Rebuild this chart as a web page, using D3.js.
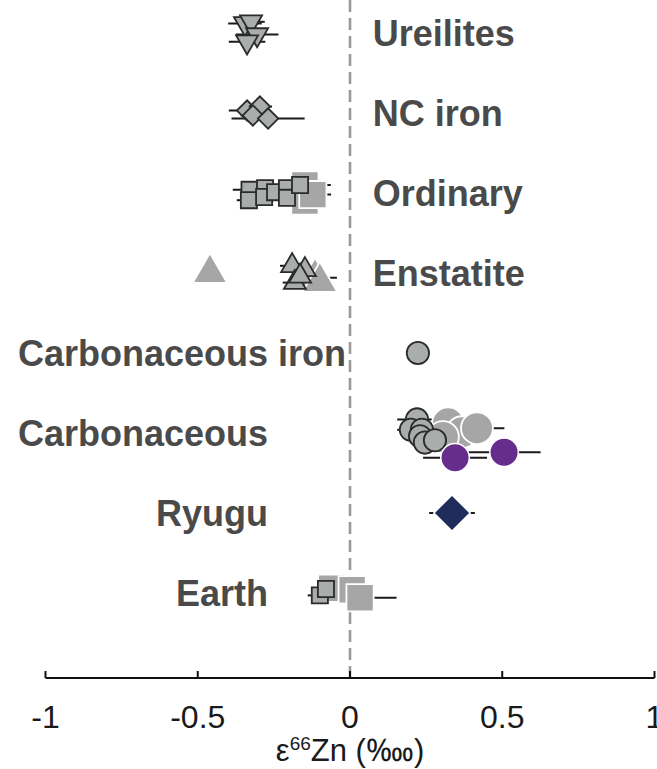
<!DOCTYPE html>
<html>
<head>
<meta charset="utf-8">
<script src="https://cdn.jsdelivr.net/npm/d3@7"></script>
<style>
  body { margin: 0; background: #fff; }
  svg text { font-family: "Liberation Sans", Arial, Helvetica, sans-serif; }
</style>
</head>
<body>
<svg id="chart"></svg>
<script>
// groups, top to bottom
var groups = ["Ureilites", "NC iron", "Ordinary", "Enstatite", "Carbonaceous iron", "Carbonaceous", "Ryugu", "Earth"];
var shapes = ["down", "diamond", "square", "up", "circle", "circle", "diamond", "square"];
var labelSide = ["right", "right", "right", "right", "left", "left", "left", "left"];
var labelAt = [0.075, 0.075, 0.075, 0.075, -0.013, -0.269, -0.269, -0.269];

// individual samples (small, dark outline): group index, eps66Zn, 2se, offset within row
var sampleGroup = [0, 0, 0, 0,  1, 1, 1, 1,  2, 2, 2, 2, 2, 2, 2, 2,  3, 3, 3, 3,  4,  5, 5, 5, 5, 5, 5,  7, 7];
var sampleVal   = [-0.345, -0.325, -0.305, -0.338,  -0.338, -0.296, -0.319, -0.269,
                   -0.330, -0.332, -0.279, -0.282, -0.246, -0.207, -0.207, -0.164,
                   -0.190, -0.148, -0.181, -0.164,  0.223,
                   0.220, 0.200, 0.236, 0.230, 0.246, 0.279,  -0.099, -0.079];
var sampleErr   = [0.055, 0.045, 0.07, 0.06,  0.06, 0.04, 0.04, 0.12,
                   0.055, 0.04, 0.04, 0.04, 0.04, 0.04, 0.04, 0.04,
                   0.04, 0.03, 0.04, 0.03,  0.015,
                   0.065, 0.045, 0.04, 0.04, 0.04, 0.04,  0.04, 0.04];
var sampleRow   = [-0.12, -0.14, 0.02, 0.11,  -0.03, -0.08, 0.03, 0.07,
                   -0.04, 0.09, -0.06, 0.05, -0.01, -0.06, 0.06, -0.10,
                   -0.09, -0.04, 0.12, 0.04,  0,
                   -0.17, -0.04, -0.04, 0.04, 0.12, 0.09,  0.03, -0.05];

// literature / bulk averages (large grey)
var litGroup = [2, 2, 2,  3, 3, 3,  5, 5, 5, 5,  7, 7, 7];
var litVal   = [-0.148, -0.148, -0.122,  -0.46, -0.115, -0.099,  0.322, 0.368, 0.417, 0.305,  -0.06, 0.007, 0.033];
var litErr   = [0.085, 0.04, 0.06,  0, 0.072, 0.04,  0.04, 0.04, 0.09, 0.04,  0.04, 0.04, 0.12];
var litRow   = [-0.10, 0.10, 0.02,  0, 0.06, 0.11,  -0.12, -0.01, -0.06, 0.05,  -0.06, -0.04, 0.06];

// highlighted (CI chondrites purple, Ryugu navy)
var hiGroup = [5, 5, 6];
var hiVal   = [0.345, 0.506, 0.335];
var hiErr   = [0.105, 0.12, 0.075];
var hiRow   = [0.31, 0.24, 0];
var hiColor = ["#662d8c", "#662d8c", "#1f2b5b"];

var xTicks = [-1, -0.5, 0, 0.5, 1];

var width = 657, height = 769;
var svg = d3.select("#chart").attr("width", width).attr("height", height);

var x = d3.scaleLinear().domain([-1, 1]).range([45.5, 654.5]);
var y = d3.scaleLinear().domain([0, 7]).range([33, 593]);
var axisY = 678;

function symbolFor(shape, size){
  var t = d3.symbolSquare;
  if(shape == "circle") t = d3.symbolCircle;
  if(shape == "up" || shape == "down") t = d3.symbolTriangle;
  return d3.symbol().type(t).size(size)();
}
function rot(shape){
  if(shape == "down") return " rotate(180)";
  if(shape == "diamond") return " rotate(45)";
  return "";
}

function pack(g, v, e, r){
  return g.map(function(d, i){ return {g: d, v: v[i], e: e[i], r: r[i], i: i}; });
}
var samples = pack(sampleGroup, sampleVal, sampleErr, sampleRow);
var lits = pack(litGroup, litVal, litErr, litRow);
var his = pack(hiGroup, hiVal, hiErr, hiRow);

// zero line
svg.append("line")
    .attr("x1", x(0)).attr("x2", x(0))
    .attr("y1", 0).attr("y2", axisY)
    .attr("stroke", "#9a9a9a")
    .attr("stroke-width", 2.6)
    .attr("stroke-dasharray", "12,6");

// error bars
var allErr = samples.concat(lits).concat(his).filter(function(d){ return d.e > 0; });
svg.selectAll(".err").data(allErr).enter().append("line")
    .attr("class", "err")
    .attr("x1", function(d){ return x(d.v - d.e); })
    .attr("x2", function(d){ return x(d.v + d.e); })
    .attr("y1", function(d){ return y(d.g + d.r); })
    .attr("y2", function(d){ return y(d.g + d.r); })
    .attr("stroke", "#1a1a1a")
    .attr("stroke-width", 2);

// big grey
svg.selectAll(".lit").data(lits).enter().append("path")
    .attr("class", "lit")
    .attr("d", function(d){
      var s = shapes[d.g];
      var sz = s == "circle" ? 800 : (s == "square" ? 740 : 520);
      return symbolFor(s, sz);
    })
    .attr("transform", function(d){ return "translate(" + x(d.v) + "," + y(d.g + d.r) + ")" + rot(shapes[d.g]); })
    .attr("fill", "#a6a6a6")
    .attr("stroke", "#fff")
    .attr("stroke-width", 1.8);

// individual samples
svg.selectAll(".smp").data(samples).enter().append("path")
    .attr("class", "smp")
    .attr("d", function(d){
      var s = shapes[d.g];
      var sz = s == "circle" ? 390 : (s == "square" ? 260 : (s == "diamond" ? 210 : 210));
      return symbolFor(s, sz);
    })
    .attr("transform", function(d){ return "translate(" + x(d.v) + "," + y(d.g + d.r) + ")" + rot(shapes[d.g]); })
    .attr("fill", "#a9aeac")
    .attr("stroke", "#2b2b2b")
    .attr("stroke-width", 1.8);

// highlighted
svg.selectAll(".hi").data(his).enter().append("path")
    .attr("class", "hi")
    .attr("d", function(d){
      var s = shapes[d.g];
      return symbolFor(s, s == "circle" ? 640 : 660);
    })
    .attr("transform", function(d){ return "translate(" + x(d.v) + "," + y(d.g + d.r) + ")" + rot(shapes[d.g]); })
    .attr("fill", function(d){ return hiColor[d.i]; })
    .attr("stroke", "#fff")
    .attr("stroke-width", 1.5);

// group labels
svg.selectAll(".glabel").data(groups).enter().append("text")
    .attr("class", "glabel")
    .attr("x", function(d, i){ return x(labelAt[i]); })
    .attr("y", function(d, i){ return y(i) + 13; })
    .attr("text-anchor", function(d, i){ return labelSide[i] == "right" ? "start" : "end"; })
    .attr("font-size", "36px")
    .attr("font-weight", "bold")
    .attr("fill", "#4a4a4a")
    .text(function(d){ return d; });

// x axis
var axis = svg.append("g").attr("transform", "translate(0," + axisY + ")");
axis.append("line")
    .attr("x1", x(-1)).attr("x2", x(1))
    .attr("stroke", "#111").attr("stroke-width", 2);
axis.selectAll(".tick").data(xTicks).enter().append("line")
    .attr("x1", function(d){ return x(d); })
    .attr("x2", function(d){ return x(d); })
    .attr("y1", 0).attr("y2", -7)
    .attr("stroke", "#111").attr("stroke-width", 2);
axis.selectAll(".tlab").data(xTicks).enter().append("text")
    .attr("x", function(d){ return x(d); })
    .attr("y", 50)
    .attr("text-anchor", "middle")
    .attr("font-size", "32px")
    .attr("fill", "#1a1a1a")
    .text(function(d){ return d3.format("")(d).replace("−", "-"); });

var title = svg.append("text")
    .attr("x", x(0))
    .attr("y", 761)
    .attr("text-anchor", "middle")
    .attr("font-size", "31px")
    .attr("fill", "#1a1a1a");
title.append("tspan").text("ε");
title.append("tspan").attr("dy", -11).attr("font-size", "19px").text("66");
title.append("tspan").attr("dy", 11).text("Zn (‱)");
</script>
</body>
</html>
